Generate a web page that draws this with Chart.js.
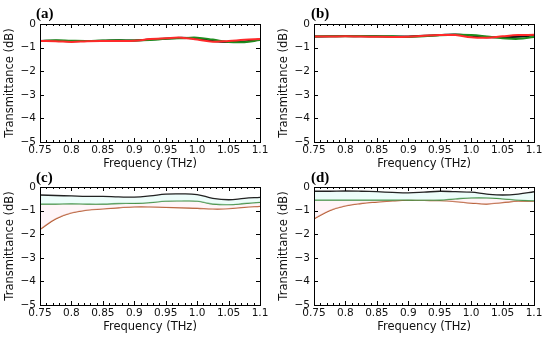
<!DOCTYPE html>
<html>
<head>
<meta charset="utf-8">
<script src="https://cdn.jsdelivr.net/npm/chart.js@4.4.1/dist/chart.umd.min.js"></script>
<style>
  html, body { margin: 0; padding: 0; background: #fff; }
  body { width: 550px; height: 341px; position: relative; overflow: hidden; }
  .wrap { position: absolute; }
  .lbl { position: absolute; font-family: "Liberation Serif", serif; font-weight: bold; font-size: 15px; color: #000; line-height: 1; }
</style>
</head>
<body>
<div class="wrap" style="left:0;top:0;width:275px;height:175px"><canvas id="ca"></canvas></div>
<div class="wrap" style="left:274px;top:0;width:275px;height:175px"><canvas id="cb"></canvas></div>
<div class="wrap" style="left:0;top:175px;width:275px;height:166px"><canvas id="cc"></canvas></div>
<div class="wrap" style="left:274px;top:175px;width:275px;height:166px"><canvas id="cd"></canvas></div>
<div class="lbl" style="left:36px;top:6px">(a)</div>
<div class="lbl" style="left:311px;top:6px">(b)</div>
<div class="lbl" style="left:36px;top:170px">(c)</div>
<div class="lbl" style="left:311px;top:170px">(d)</div>
<script>
// ---- data ----
const freq = [0.75, 0.775, 0.8, 0.825, 0.85, 0.875, 0.9, 0.925, 0.95, 0.975, 1.0, 1.025, 1.05, 1.075, 1.1];

const aBlack = [-0.72, -0.71, -0.73, -0.72, -0.71, -0.69, -0.70, -0.66, -0.62, -0.58, -0.62, -0.72, -0.76, -0.74, -0.66];
const aGreen = [-0.72, -0.69, -0.71, -0.72, -0.70, -0.69, -0.70, -0.68, -0.63, -0.60, -0.58, -0.66, -0.76, -0.77, -0.68];
const aRed   = [-0.72, -0.73, -0.76, -0.73, -0.72, -0.72, -0.71, -0.64, -0.60, -0.58, -0.66, -0.75, -0.72, -0.67, -0.64];

const bBlack = [-0.53, -0.52, -0.51, -0.52, -0.52, -0.53, -0.53, -0.50, -0.47, -0.45, -0.50, -0.56, -0.56, -0.54, -0.48];
const bGreen = [-0.53, -0.52, -0.52, -0.51, -0.52, -0.52, -0.55, -0.52, -0.48, -0.46, -0.47, -0.53, -0.60, -0.63, -0.55];
const bRed   = [-0.53, -0.53, -0.52, -0.53, -0.54, -0.55, -0.54, -0.50, -0.47, -0.47, -0.56, -0.58, -0.52, -0.47, -0.46];

const cBlack = [-0.34, -0.36, -0.38, -0.40, -0.40, -0.42, -0.43, -0.38, -0.30, -0.29, -0.32, -0.48, -0.54, -0.48, -0.44];
const cGreen = [-0.72, -0.72, -0.71, -0.72, -0.72, -0.70, -0.69, -0.66, -0.60, -0.59, -0.60, -0.72, -0.75, -0.70, -0.65];
const cBrown = [-1.80, -1.35, -1.10, -0.98, -0.93, -0.88, -0.84, -0.84, -0.86, -0.88, -0.90, -0.93, -0.92, -0.86, -0.82];

const dBlack = [-0.18, -0.18, -0.17, -0.18, -0.20, -0.23, -0.25, -0.22, -0.18, -0.20, -0.22, -0.30, -0.34, -0.30, -0.20];
const dGreen = [-0.55, -0.55, -0.55, -0.55, -0.55, -0.55, -0.55, -0.56, -0.55, -0.50, -0.46, -0.46, -0.50, -0.56, -0.58];
const dBrown = [-1.35, -1.00, -0.80, -0.70, -0.64, -0.59, -0.56, -0.57, -0.58, -0.62, -0.68, -0.72, -0.66, -0.60, -0.60];

const xTickValues = [0.75, 0.8, 0.85, 0.9, 0.95, 1.0, 1.05, 1.1];
const xTickLabels = ['0.75', '0.8', '0.85', '0.9', '0.95', '1.0', '1.05', '1.1'];
const yTickValues = [0, -1, -2, -3, -4, -5];
const yTickLabels = ['0', '\u22121', '\u22122', '\u22123', '\u22124', '\u22125'];

const xTitle = 'Frequency (THz)';
const yTitle = 'Transmittance (dB)';

// ---- styling ----
const FONT = '"DejaVu Sans", sans-serif';
const COL_BLACK = '#111111';
const COL_GREEN = '#1e8c1e';
const COL_RED = '#ff2a2a';
const COL_GREEN2 = '#3d8a3d';
const COL_BROWN = '#b4582e';

const boxTicks = {
  id: 'boxTicks',
  afterDraw(chart) {
    const ctx = chart.ctx, a = chart.chartArea;
    const xs = chart.scales.x, ys = chart.scales.y;
    ctx.save();
    ctx.strokeStyle = '#000';
    ctx.lineWidth = 1;
    ctx.strokeRect(Math.round(a.left) + 0.5, Math.round(a.top) + 0.5, Math.round(a.right - a.left), Math.round(a.bottom - a.top));
    ctx.beginPath();
    xTickValues.forEach(v => {
      const px = Math.round(xs.getPixelForValue(v)) + 0.5;
      ctx.moveTo(px, a.bottom); ctx.lineTo(px, a.bottom - 4);
      ctx.moveTo(px, a.top); ctx.lineTo(px, a.top + 4);
    });
    for (let k = 0; k <= 35; k++) {
      const v = 0.75 + k * 0.01;
      const px = Math.round(xs.getPixelForValue(v)) + 0.5;
      ctx.moveTo(px, a.bottom); ctx.lineTo(px, a.bottom - 2);
      ctx.moveTo(px, a.top); ctx.lineTo(px, a.top + 2);
    }
    yTickValues.forEach(v => {
      const py = Math.round(ys.getPixelForValue(v)) + 0.5;
      ctx.moveTo(a.left, py); ctx.lineTo(a.left + 4, py);
      ctx.moveTo(a.right, py); ctx.lineTo(a.right - 4, py);
    });
    ctx.stroke();
    ctx.restore();
  }
};

function ds(label, data, color, width, fill, bg) {
  return {
    label, data: data.map((y, i) => ({ x: freq[i], y })),
    borderColor: color, borderWidth: width, pointRadius: 0,
    tension: 0.4, fill: fill || false, backgroundColor: bg || 'transparent'
  };
}

function makeChart(id, datasets, padTop, padBottom) {
  return new Chart(document.getElementById(id), {
    type: 'line',
    data: { datasets },
    options: {
      responsive: true, maintainAspectRatio: false, animation: false,
      devicePixelRatio: 1,
      layout: { padding: { left: 0, right: 15, top: padTop, bottom: padBottom } },
      plugins: { legend: { display: false }, tooltip: { enabled: false } },
      scales: {
        x: {
          type: 'linear', min: 0.75, max: 1.1,
          afterBuildTicks: s => { s.ticks = xTickValues.map(v => ({ value: v })); },
          afterFit: s => { s.height = 33; },
          grid: { display: false, drawTicks: false },
          border: { display: false },
          ticks: {
            autoSkip: false, maxRotation: 0, padding: 2, color: '#111',
            font: { family: FONT, size: 10.5 },
            callback: v => { const i = xTickValues.findIndex(t => Math.abs(t - v) < 1e-9); return i >= 0 ? xTickLabels[i] : ''; }
          },
          title: { display: true, text: xTitle, color: '#111', font: { family: FONT, size: 11.5 }, padding: { top: 0, bottom: 4 } }
        },
        y: {
          type: 'linear', min: -5, max: 0,
          afterBuildTicks: s => { s.ticks = yTickValues.map(v => ({ value: v })); },
          afterFit: s => { s.width = 40; },
          grid: { display: false, drawTicks: false },
          border: { display: false },
          ticks: {
            autoSkip: false, padding: 4, color: '#111',
            font: { family: FONT, size: 10.5 },
            callback: v => { const i = yTickValues.findIndex(t => Math.abs(t - v) < 1e-9); return i >= 0 ? yTickLabels[i] : ''; }
          },
          title: { display: true, text: yTitle, color: '#111', font: { family: FONT, size: 11.5 }, padding: { top: 3, bottom: 0 } }
        }
      }
    },
    plugins: [boxTicks]
  });
}

makeChart('ca', [
  ds('red', aRed, COL_RED, 2),
  ds('green', aGreen, COL_GREEN, 2),
  ds('black', aBlack, COL_BLACK, 2)
], 24, 0);

makeChart('cb', [
  ds('red', bRed, COL_RED, 2),
  ds('green', bGreen, COL_GREEN, 2),
  ds('black', bBlack, COL_BLACK, 2)
], 24, 0);

makeChart('cc', [
  ds('black', cBlack, '#222', 1.3, '+1', 'rgba(215,250,244,0.45)'),
  ds('green', cGreen, COL_GREEN2, 1.3, '+1', 'rgba(255,232,240,0.45)'),
  ds('brown', cBrown, COL_BROWN, 1.3)
], 12, 3);

makeChart('cd', [
  ds('black', dBlack, '#222', 1.3, '+1', 'rgba(215,250,244,0.45)'),
  ds('green', dGreen, COL_GREEN2, 1.3, '+1', 'rgba(255,232,240,0.45)'),
  ds('brown', dBrown, COL_BROWN, 1.3)
], 12, 3);
</script>
</body>
</html>
